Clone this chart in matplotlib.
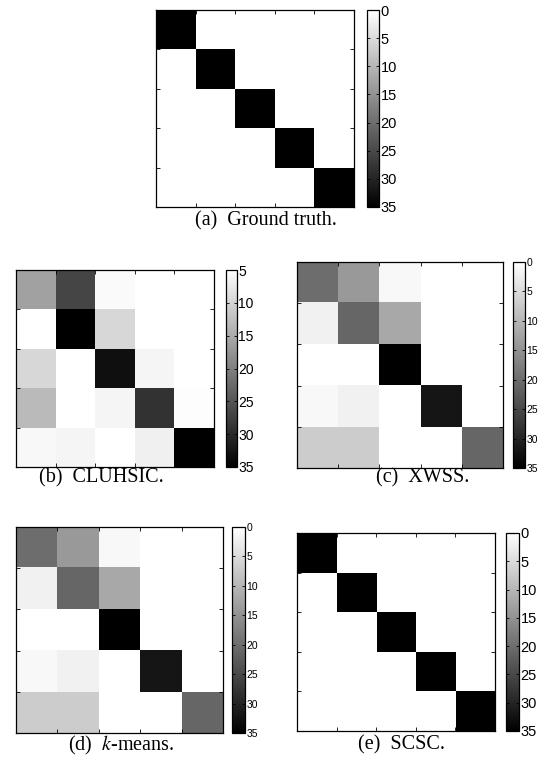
import numpy as np
import matplotlib
matplotlib.use("Agg")
import matplotlib.pyplot as plt

plt.rcParams["mathtext.fontset"] = "stix"

W, H = 549, 757

# confusion matrices (rows top -> bottom)
ground_truth = [[35, 0, 0, 0, 0],
                [0, 35, 0, 0, 0],
                [0, 0, 35, 0, 0],
                [0, 0, 0, 35, 0],
                [0, 0, 0, 0, 35]]

cluhsic = [[16.1, 26.9, 5.6, 5, 5],
           [5, 35, 9.8, 5, 5],
           [9.8, 5, 33.2, 6.2, 5],
           [13.1, 5, 6.2, 29, 5.3],
           [5.9, 6.2, 5, 6.8, 35]]

xwss = [[20, 14, 1, 0, 0],
        [2, 21, 12, 0, 0],
        [0, 0, 35, 0, 0],
        [1, 2, 0, 32, 0],
        [7, 7, 0, 0, 21]]

kmeans = [[20, 14, 1, 0, 0],
          [2, 21, 12, 0, 0],
          [0, 0, 35, 0, 0],
          [1, 2, 0, 32, 0],
          [7, 7, 0, 0, 21]]

scsc = [[35, 0, 0, 0, 0],
        [0, 35, 0, 0, 0],
        [0, 0, 35, 0, 0],
        [0, 0, 0, 35, 0],
        [0, 0, 0, 0, 35]]

captions = ["(a)  Ground truth.", "(b)  CLUHSIC.", "(c)  XWSS.",
            "(d)  $k$-means.", "(e)  SCSC."]
cbar_ticks = [[0, 5, 10, 15, 20, 25, 30, 35],
              [5, 10, 15, 20, 25, 30, 35],
              [0, 5, 10, 15, 20, 25, 30, 35],
              [0, 5, 10, 15, 20, 25, 30, 35],
              [0, 5, 10, 15, 20, 25, 30, 35]]
clims = [(0, 35), (5, 35), (0, 35), (0, 35), (0, 35)]

# layout in pixels: axes box, colorbar box, caption centre, colorbar font size
panels = [
    dict(ax=(156, 10, 354, 207), cb=(367, 10, 379, 207), cap=(266, 221), fs=10.5),
    dict(ax=(16, 270, 214, 467), cb=(226, 270, 237, 467), cap=(101, 478), fs=10),
    dict(ax=(297, 262, 503, 468), cb=(513, 262, 525, 468), cap=(423, 478), fs=7.5),
    dict(ax=(16, 527, 223, 733), cb=(232, 527, 245, 733), cap=(121, 745), fs=7.5),
    dict(ax=(297, 533, 495, 731), cb=(506, 533, 519, 731), cap=(402, 745), fs=10.5),
]


def frac(box):
    l, t, r, b = box
    return [l / W, 1 - b / H, (r - l) / W, (b - t) / H]


fig = plt.figure(figsize=(W / 100, H / 100), dpi=100)

datasets = [ground_truth, cluhsic, xwss, kmeans, scsc]
for data, cap, ticks, clim, p in zip(datasets, captions, cbar_ticks, clims, panels):
    ax = fig.add_axes(frac(p["ax"]))
    im = ax.imshow(np.array(data), cmap="gray_r", vmin=clim[0], vmax=clim[1],
                   aspect="auto", interpolation="nearest")
    edges = np.arange(-0.5, 5, 1.0)
    ax.set_xticks(edges)
    ax.set_yticks(edges)
    ax.set_xticklabels([])
    ax.set_yticklabels([])
    ax.tick_params(direction="in", top=True, right=True, length=3, width=0.6)
    for s in ax.spines.values():
        s.set_linewidth(0.9)

    cax = fig.add_axes(frac(p["cb"]))
    cb = fig.colorbar(im, cax=cax, ticks=ticks)
    cax.invert_yaxis()
    cb.outline.set_linewidth(0.9)
    cax.tick_params(direction="in", left=True, right=True, length=2, width=0.6,
                    pad=1, labelsize=p["fs"])
    for lab in cax.get_yticklabels():
        lab.set_fontfamily("Liberation Sans")

    fig.text(p["cap"][0] / W, 1 - p["cap"][1] / H, cap, ha="center", va="center",
             fontsize=14.5, family="Liberation Serif")

fig.savefig("out.png", dpi=100)
